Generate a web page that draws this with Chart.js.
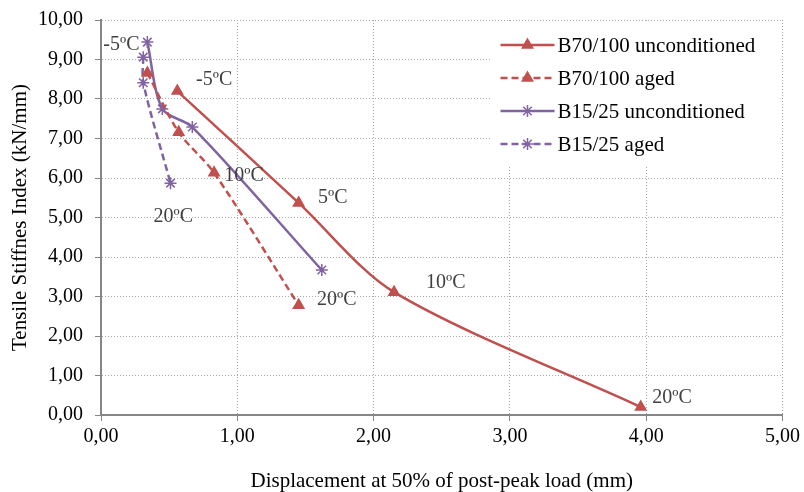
<!DOCTYPE html>
<html>
<head>
<meta charset="utf-8">
<script src="https://cdn.jsdelivr.net/npm/chart.js@4/dist/chart.umd.min.js"></script>
<style>
  html, body { margin: 0; padding: 0; background: #fff; }
</style>
</head>
<body>
<canvas id="chart" width="804" height="492"></canvas>
<script>
// values
const b70UncX = [0.56, 1.45, 2.15, 3.96]
const b70UncY = [8.20, 5.37, 3.11, 0.20]
const b70AgedX = [0.34, 0.57, 0.83, 1.45]
const b70AgedY = [8.66, 7.16, 6.13, 2.78]
const b15UncX = [0.34, 0.45, 0.67, 1.62]
const b15UncY = [9.44, 7.75, 7.29, 3.67]
const b15AgedX = [0.31, 0.31, 0.51]
const b15AgedY = [9.06, 8.41, 5.87]

const seriesNames = ['B70/100 unconditioned', 'B70/100 aged', 'B15/25 unconditioned', 'B15/25 aged']

// temperature labels, in data units
const tempText = ['-5ºC', '-5ºC', '10ºC', '5ºC', '20ºC', '20ºC', '10ºC', '20ºC']
const tempX = [0.15, 0.83, 1.05, 1.70, 0.53, 1.73, 2.53, 4.19]
const tempY = [9.37, 8.48, 6.05, 5.49, 5.01, 2.91, 3.34, 0.43]

const xTicks = [0, 1, 2, 3, 4, 5]
const yTicks = [0, 1, 2, 3, 4, 5, 6, 7, 8, 9, 10]

const RED = '#C0504D'
const PURPLE = '#8064A2'
const FONT = '"Liberation Serif", "Times New Roman", serif'

function pts(xs, ys) {
    return xs.map((x, i) => ({ x: x, y: ys[i] }))
}
function comma(v) {
    return v.toFixed(2).replace('.', ',')
}

const tempLabels = {
    id: 'tempLabels',
    afterDatasetsDraw(chart) {
        const ctx = chart.ctx
        const xs = chart.scales.x, ys = chart.scales.y
        ctx.save()
        ctx.font = '20px ' + FONT
        ctx.fillStyle = '#404040'
        ctx.textAlign = 'center'
        ctx.textBaseline = 'middle'
        tempText.forEach((t, i) => {
            ctx.fillText(t, xs.getPixelForValue(tempX[i]), ys.getPixelForValue(tempY[i]))
        })
        ctx.restore()
    }
}

const boxLegend = {
    id: 'boxLegend',
    afterDraw(chart) {
        const ctx = chart.ctx
        const area = chart.chartArea
        const left = area.right - 292, top = area.top + 1
        ctx.save()
        ctx.fillStyle = '#fff'
        ctx.fillRect(left, top, 290, 145)
        ctx.font = '21px ' + FONT
        ctx.textBaseline = 'middle'
        ctx.textAlign = 'left'
        chart.data.datasets.forEach((ds, i) => {
            const y = top + 24 + i * 33
            ctx.strokeStyle = ds.borderColor
            ctx.lineWidth = 2.5
            ctx.setLineDash(ds.borderDash || [])
            ctx.beginPath()
            ctx.moveTo(left + 10, y)
            ctx.lineTo(left + 64, y)
            ctx.stroke()
            ctx.setLineDash([])
            ctx.fillStyle = ds.borderColor
            ctx.lineWidth = 1.5
            Chart.helpers.drawPoint(ctx, {
                pointStyle: ds.pointStyle, radius: ds.pointRadius, borderWidth: 1.5, rotation: 0
            }, left + 37, y)
            ctx.fillStyle = '#000'
            ctx.fillText(ds.label, left + 67, y + 1)
        })
        ctx.restore()
    }
}

function makeSet(i, xs, ys, color, dashed, style) {
    return {
        label: seriesNames[i],
        data: pts(xs, ys),
        showLine: true,
        borderColor: color,
        backgroundColor: color,
        borderWidth: 2.5,
        borderDash: dashed ? [7, 4] : [],
        tension: 0.3,
        pointStyle: style,
        pointRadius: 6,
        pointBorderWidth: 1.5,
        pointBorderColor: color,
        pointBackgroundColor: color
    }
}

document.addEventListener('DOMContentLoaded', function() {
    const ctx = document.getElementById('chart').getContext('2d')
    new Chart(ctx, {
        type: 'scatter',
        data: {
            datasets: [
                makeSet(0, b70UncX, b70UncY, RED, false, 'triangle'),
                makeSet(1, b70AgedX, b70AgedY, RED, true, 'triangle'),
                makeSet(2, b15UncX, b15UncY, PURPLE, false, 'star'),
                makeSet(3, b15AgedX, b15AgedY, PURPLE, true, 'star')
            ]
        },
        options: {
            responsive: false,
            animation: false,
            devicePixelRatio: 1,
            layout: { padding: { left: 0, right: 19, top: 20, bottom: 0 } },
            plugins: {
                legend: { display: false },
                tooltip: { enabled: false }
            },
            scales: {
                x: {
                    type: 'linear',
                    min: 0, max: 5,
                    afterFit: s => { s.height = 77 },
                    afterBuildTicks: s => { s.ticks = xTicks.map(v => ({ value: v })) },
                    ticks: {
                        callback: v => comma(v),
                        font: { family: FONT, size: 20 },
                        color: '#000',
                        padding: 4,
                        maxRotation: 0
                    },
                    grid: { color: '#a6a6a6', lineWidth: 1, tickLength: 6, tickColor: '#868686', tickBorderDash: [] },
                    border: { color: '#868686', width: 2, dash: [1, 2] },
                    title: {
                        display: true,
                        text: 'Displacement at 50% of post-peak load (mm)',
                        font: { family: FONT, size: 21, lineHeight: 1 },
                        color: '#000',
                        padding: { top: 0, bottom: 0 }
                    }
                },
                y: {
                    type: 'linear',
                    min: 0, max: 10,
                    afterFit: s => { s.width = 101; s.paddingTop = 0; s.paddingBottom = 0 },
                    afterBuildTicks: s => { s.ticks = yTicks.map(v => ({ value: v })) },
                    ticks: {
                        callback: v => comma(v),
                        font: { family: FONT, size: 20 },
                        color: '#000',
                        padding: 12
                    },
                    grid: { color: '#a6a6a6', lineWidth: 1, tickLength: 6, tickColor: '#868686', tickBorderDash: [] },
                    border: { color: '#868686', width: 2, dash: [1, 2] },
                    title: {
                        display: true,
                        text: 'Tensile Stiffnes Index (kN/mm)',
                        font: { family: FONT, size: 21 },
                        color: '#000',
                        padding: { top: 8, bottom: 0 }
                    }
                }
            }
        },
        plugins: [tempLabels, boxLegend]
    })
})
</script>
</body>
</html>
